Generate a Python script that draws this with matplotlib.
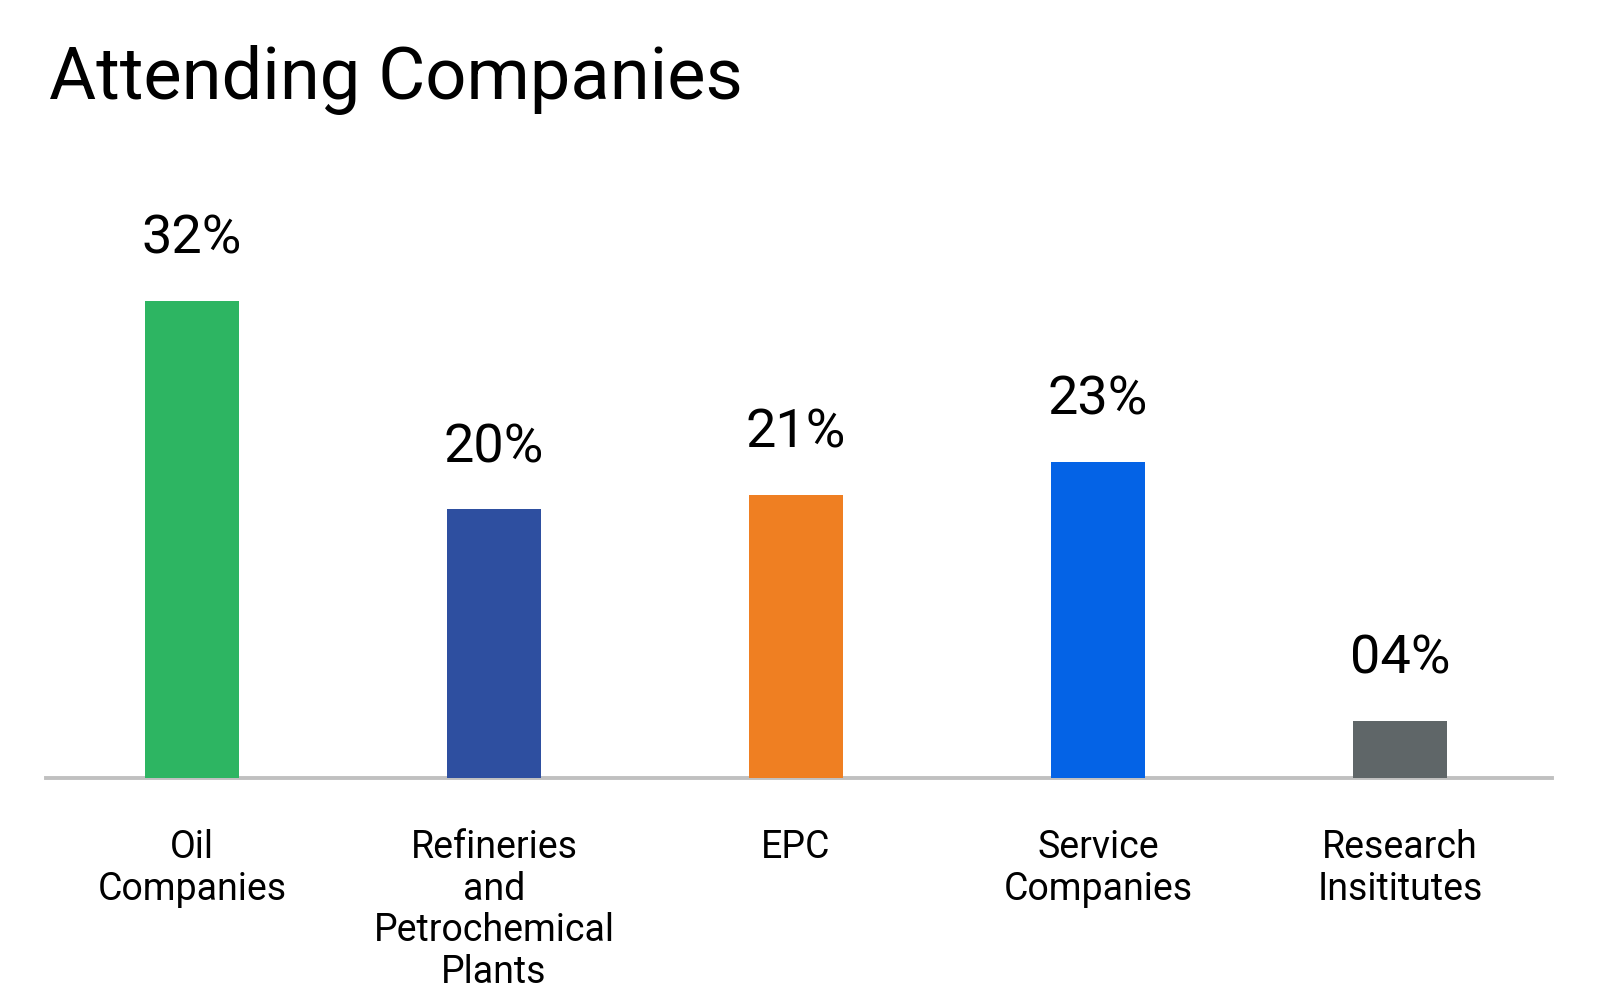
import matplotlib
matplotlib.use('Agg')
import matplotlib.pyplot as plt

# Data
categories = ['Oil\nCompanies', 'Refineries\nand\nPetrochemical\nPlants', 'EPC',
              'Service\nCompanies', 'Research\nInsititutes']
bar_heights = [32, 18, 19, 21.2, 3.8]
value_labels = ['32%', '20%', '21%', '23%', '04%']
bar_colors = ['#2DB562', '#2E4FA0', '#EF7F22', '#0463E6', '#5F6668']

plt.rcParams['font.family'] = ['Roboto', 'DejaVu Sans']


def create_bar_chart():
    # Figure of 1600x994 px with axes placed by hand
    fig = plt.figure(figsize=(16, 9.94), dpi=100)
    ax = fig.add_axes([0.02875, 0.2177, 0.94125, 0.5996])
    return fig, ax


def add_data_to_bar_chart(fig, ax):
    x = list(range(len(categories)))
    ax.bar(x, bar_heights, width=0.31, color=bar_colors, zorder=3)

    for xi, h, lab in zip(x, bar_heights, value_labels):
        ax.annotate(lab, (xi, h), xytext=(0, 44.5), textcoords='offset points',
                    ha='center', va='center', fontsize=39)

    ax.set_xlim(-0.483, 4.503)
    ax.set_ylim(0, 40)
    ax.set_xticks(x)
    ax.set_xticklabels(categories, fontsize=27, linespacing=1.16)
    ax.tick_params(axis='x', length=0, pad=37)
    ax.set_yticks([])

    for side in ['top', 'left', 'right']:
        ax.spines[side].set_visible(False)
    ax.spines['bottom'].set_color('#C0C0C0')
    ax.spines['bottom'].set_linewidth(2.8)

    fig.text(49 / 1600, 1 - 99 / 994, 'Attending Companies', fontsize=52,
             ha='left', va='baseline')
    return fig


fig, ax = create_bar_chart()
add_data_to_bar_chart(fig, ax)
fig.savefig('out.png', dpi=100, facecolor='white')
